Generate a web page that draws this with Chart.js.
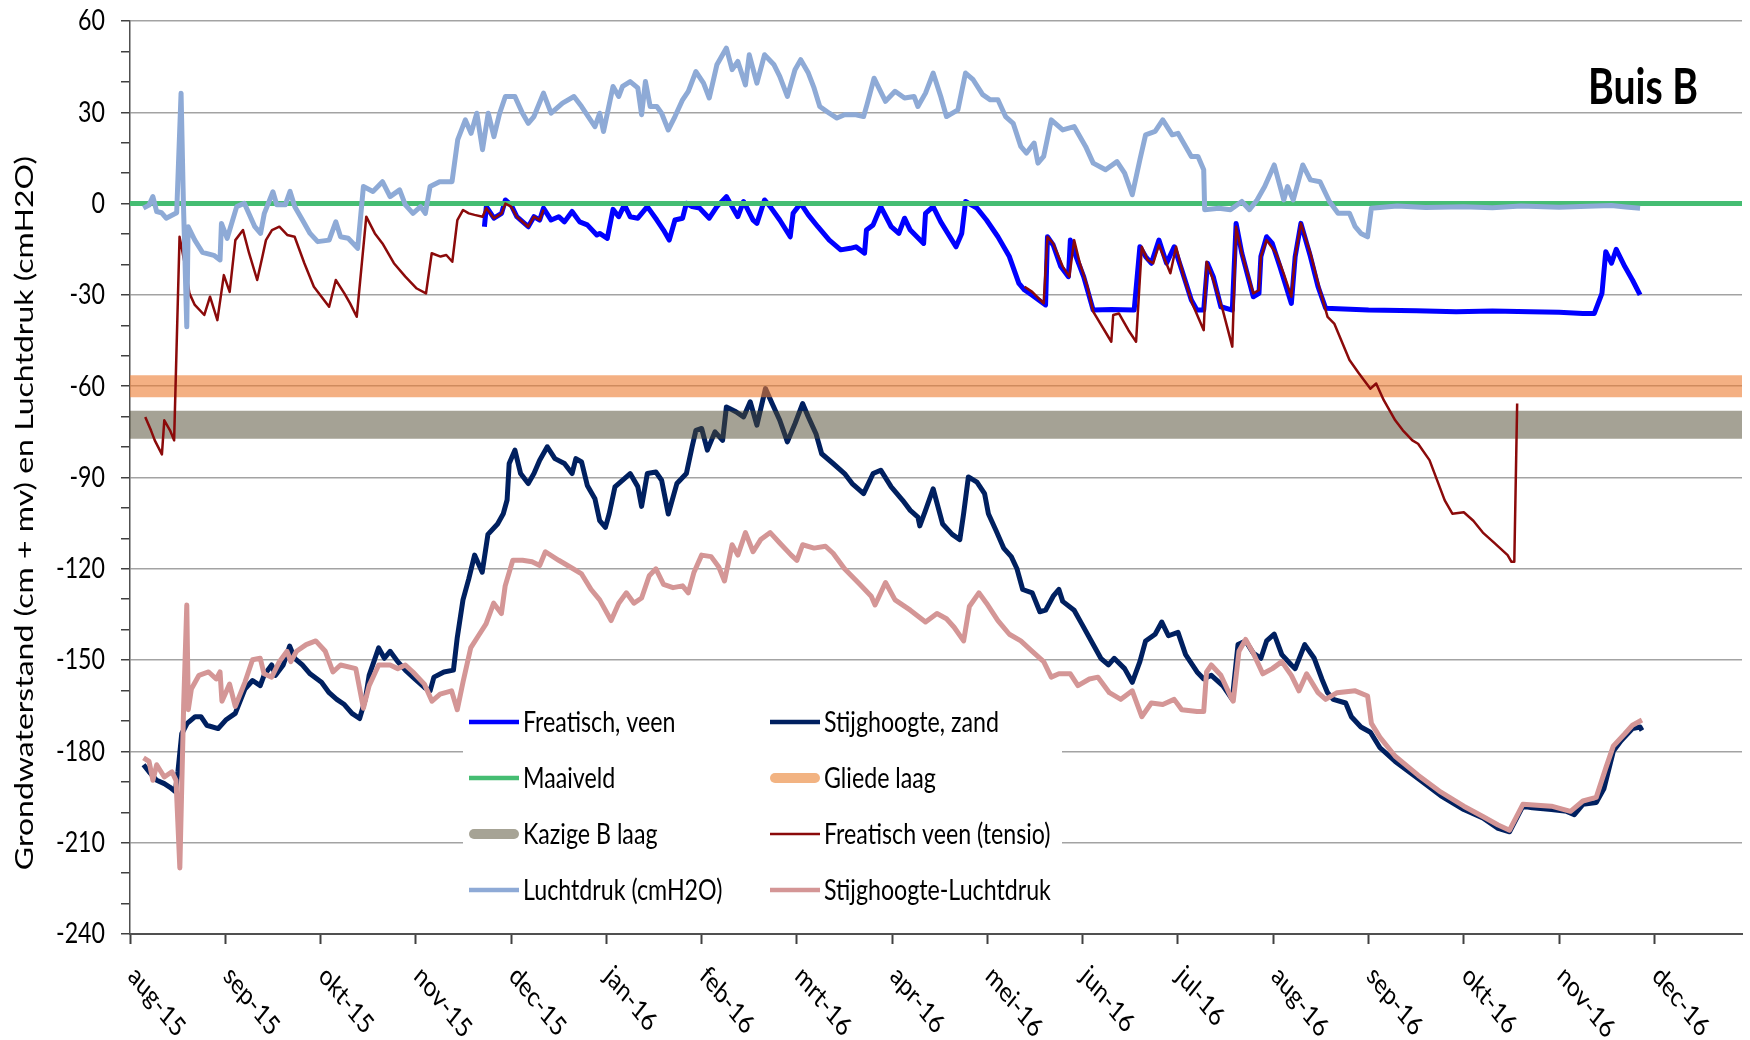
<!DOCTYPE html>
<html>
<head>
<meta charset="utf-8">
<title>Buis B</title>
<script src="https://cdn.jsdelivr.net/npm/chart.js@4.4.1/dist/chart.umd.min.js"></script>
<style>
  html, body { margin: 0; padding: 0; background: #ffffff; }
  #wrap { width: 1750px; height: 1040px; }
</style>
</head>
<body>
<div id="wrap"><canvas id="chart" width="1750" height="1040"></canvas></div>
<script>
// x positions are in months counted from 1 Aug 2015 (0 = aug-15, 1 = sep-15, ...)
const monthLabels = ['aug-15','sep-15','okt-15','nov-15','dec-15','jan-16','feb-16','mrt-16',
  'apr-16','mei-16','jun-16','jul-16','aug-16','sep-16','okt-16','nov-16','dec-16'];
const xEnd = 16.92;
const yLabelValues = [60, 30, 0, -30, -60, -90, -120, -150, -180, -210, -240];
const seriesNames = ['Freatisch, veen', 'Stijghoogte, zand', 'Maaiveld', 'Gliede laag',
  'Kazige B laag', 'Freatisch veen (tensio)', 'Luchtdruk (cmH2O)', 'Stijghoogte-Luchtdruk'];

// Freatische grondwaterstand in het veen (cm t.o.v. maaiveld)
const freatischVeen = [
  [3.72,-7.6],[3.74,-1],[3.82,-4.8],[3.9,-3.2],[3.94,1.2],[4.0,-0.4],[4.06,-4.3],[4.18,-7.6],[4.24,-4.3],
  [4.3,-5.4],[4.34,-1.5],[4.42,-5.4],[4.5,-4.3],[4.56,-6],[4.64,-2.6],[4.72,-6],[4.8,-7],[4.9,-10.3],
  [4.93,-9.8],[5.01,-11.4],[5.07,-1.9],[5.13,-4.3],[5.19,-0.4],[5.25,-4.3],[5.33,-4.8],[5.43,-1],
  [5.53,-5.4],[5.6,-8.7],[5.66,-12],[5.72,-5.4],[5.8,-4.8],[5.84,0.1],[5.9,-1],[5.98,-1.5],[6.08,-4.8],
  [6.16,-1],[6.26,2.3],[6.32,-1],[6.38,-4.3],[6.44,0.7],[6.54,-5.4],[6.58,-6.5],[6.66,1.2],[6.72,-1],
  [6.82,-5.4],[6.93,-10.9],[6.96,-3.2],[7.04,0.1],[7.12,-3.7],[7.22,-7.6],[7.34,-12],[7.46,-15.2],
  [7.56,-14.7],[7.62,-14.2],[7.71,-16.3],[7.73,-8.7],[7.8,-7],[7.88,-1],[7.99,-7.6],[8.07,-9.8],
  [8.13,-4.8],[8.19,-8.7],[8.33,-13.1],[8.35,-3.2],[8.43,-1],[8.51,-6],[8.67,-14.2],[8.73,-9.8],
  [8.77,0.7],[8.89,-1.5],[8.99,-5.4],[9.11,-10.9],[9.23,-17.4],[9.33,-26.2],[9.39,-28.4],[9.47,-30.1],
  [9.61,-33.3],[9.63,-10.9],[9.69,-13.6],[9.77,-20.7],[9.85,-24],[9.87,-12],[9.93,-17.4],[10.01,-24],
  [10.11,-35],[10.3,-34.8],[10.54,-35],[10.6,-14.2],[10.66,-17.4],[10.72,-19.6],[10.8,-12],[10.88,-19.6],
  [10.96,-14.2],[11.04,-21.8],[11.14,-31.7],[11.2,-35],[11.27,-35],[11.31,-19.6],[11.37,-24],
  [11.45,-33.9],[11.57,-35],[11.61,-6.5],[11.67,-16.3],[11.79,-30.6],[11.85,-29.5],[11.87,-17.4],
  [11.93,-10.9],[11.99,-13.1],[12.07,-20.7],[12.19,-32.8],[12.23,-17.4],[12.29,-6.5],[12.39,-17.4],
  [12.47,-27.3],[12.55,-34.4],[13.0,-35],[13.5,-35.2],[13.92,-35.5],[14.3,-35.3],[14.7,-35.5],
  [15.0,-35.7],[15.25,-36.1],[15.37,-36.1],[15.45,-29.5],[15.49,-15.8],[15.55,-19.6],[15.6,-15],
  [15.69,-20.7],[15.77,-25.1],[15.85,-30]
];

// Stijghoogte in het zand
const stijghoogteZand = [
  [0.142,-184.4],[0.2,-186.7],[0.28,-189.5],[0.36,-190.6],[0.42,-191.8],[0.475,-193.2],[0.503,-186.7],
  [0.543,-174.2],[0.6,-170.8],[0.684,-168.6],[0.745,-168.6],[0.805,-171.4],[0.925,-172.5],[1.005,-169.7],
  [1.105,-167.5],[1.206,-159.5],[1.286,-156.7],[1.367,-158.4],[1.407,-155],[1.487,-151.6],[1.527,-155],
  [1.608,-151.6],[1.676,-145.4],[1.728,-149.4],[1.809,-151.6],[1.89,-154.5],[2.01,-157.3],[2.09,-160.7],
  [2.17,-162.9],[2.25,-164.6],[2.33,-167.5],[2.41,-169.2],[2.47,-162.9],[2.51,-155],[2.61,-146],
  [2.67,-149.4],[2.73,-147.1],[2.81,-150.5],[2.89,-153.3],[2.99,-156.2],[3.09,-159],[3.15,-160.1],
  [3.19,-155.6],[3.295,-153.9],[3.395,-153.3],[3.435,-142.6],[3.495,-130.2],[3.555,-123.4],[3.617,-115.5],
  [3.697,-121.1],[3.757,-108.7],[3.858,-105.3],[3.918,-101.9],[3.958,-97.4],[3.98,-85.4],[4.04,-81],
  [4.1,-88.7],[4.18,-92],[4.24,-88.7],[4.3,-84.3],[4.38,-79.9],[4.46,-83.8],[4.56,-85.4],[4.64,-88.7],
  [4.68,-83.8],[4.74,-84.9],[4.8,-92.6],[4.88,-97],[4.93,-104.2],[4.99,-106.4],[5.03,-101.9],
  [5.09,-93.1],[5.25,-88.7],[5.33,-93],[5.37,-99.5],[5.43,-88.7],[5.52,-88.2],[5.58,-90.9],[5.65,-102],
  [5.74,-92],[5.84,-88.7],[5.9,-79.9],[5.94,-74.5],[6.0,-73.9],[6.06,-81],[6.14,-75],[6.22,-77.8],
  [6.26,-66.8],[6.36,-68.4],[6.44,-70.1],[6.51,-65.1],[6.58,-72.8],[6.67,-60.8],[6.74,-65.7],
  [6.82,-71.2],[6.9,-78.3],[6.98,-72.3],[7.06,-65.7],[7.12,-70.1],[7.2,-75.6],[7.26,-82.2],[7.38,-85.4],
  [7.5,-88.7],[7.58,-92],[7.7,-95.3],[7.8,-88.7],[7.88,-87.6],[7.99,-93.1],[8.11,-97.5],[8.19,-100.8],
  [8.27,-103],[8.29,-105.9],[8.35,-100.8],[8.43,-93.7],[8.53,-105.3],[8.63,-108.7],[8.71,-110.4],
  [8.75,-101.9],[8.8,-89.8],[8.89,-91.5],[8.97,-95.3],[9.01,-101.9],[9.09,-107.4],[9.17,-113.2],
  [9.25,-116],[9.31,-120],[9.37,-126.8],[9.47,-127.9],[9.55,-134.1],[9.61,-133.6],[9.69,-129],
  [9.75,-126.8],[9.79,-130.7],[9.91,-133.6],[9.99,-138.1],[10.11,-144.9],[10.19,-149.4],[10.27,-151.6],
  [10.33,-149.4],[10.44,-152.8],[10.52,-157.3],[10.6,-150.5],[10.66,-143.7],[10.76,-141.5],[10.83,-137.5],
  [10.9,-142],[11.0,-140.9],[11.08,-148.2],[11.2,-153.9],[11.27,-156.2],[11.35,-155],[11.47,-158.4],
  [11.57,-162.9],[11.63,-144.9],[11.71,-143.7],[11.79,-147.7],[11.87,-149.4],[11.93,-143.7],[12.01,-141.5],
  [12.09,-148.2],[12.19,-151.6],[12.23,-152.8],[12.33,-144.9],[12.43,-149.4],[12.51,-156.2],[12.57,-160.7],
  [12.63,-162.9],[12.76,-164.1],[12.82,-168.6],[12.92,-172],[13.02,-173.7],[13.12,-178.8],[13.28,-183.3],
  [13.52,-188.9],[13.76,-194.6],[14.0,-199.1],[14.2,-201.9],[14.36,-205.3],[14.48,-206.4],[14.62,-198],
  [14.72,-198.5],[14.92,-199.1],[15.08,-199.7],[15.16,-200.8],[15.25,-197.4],[15.39,-196.8],[15.47,-192.3],
  [15.57,-179.9],[15.65,-176.5],[15.77,-172.5],[15.85,-172],[15.87,-173.1]
];

// Maaiveld en de twee bodemlagen (vaste niveaus)
const maaiveld = [[0, 0], [xEnd, 0]];
const gliedeLaag = [[0, -60], [xEnd, -60]];
const kazigeBLaag = [[0, -72.7], [xEnd, -72.7]];

// Freatisch niveau in het veen, afgeleid uit de tensiometer
const freatischTensio = [
  [0.16,-70.1],[0.22,-74.5],[0.26,-77.8],[0.335,-82.4],[0.36,-71.2],[0.42,-74.5],[0.463,-77.8],
  [0.52,-10.9],[0.58,-20.7],[0.624,-29.5],[0.68,-33.3],[0.78,-36.6],[0.84,-30.6],[0.917,-38.3],
  [0.985,-23.5],[1.046,-29],[1.106,-12],[1.186,-8.7],[1.25,-16.3],[1.335,-25.1],[1.39,-17.4],
  [1.427,-12],[1.49,-8.7],[1.568,-7.6],[1.65,-10.3],[1.728,-10.9],[1.83,-19.6],[1.93,-27.3],
  [2.09,-33.9],[2.16,-25.1],[2.25,-29.5],[2.31,-32.8],[2.38,-37.2],[2.48,-4.3],[2.57,-9.8],
  [2.65,-13.1],[2.77,-19.6],[2.89,-24],[3.01,-27.9],[3.107,-29.5],[3.167,-16.3],[3.26,-17.4],
  [3.32,-16.9],[3.383,-19.1],[3.436,-5.4],[3.496,-2.1],[3.556,-3.2],[3.616,-3.7],[3.7,-4.3],
  [3.74,-1.5],[3.82,-4.8],[3.9,-3.2],[3.94,0],[4.0,-1],[4.06,-4.3],[4.18,-7.6],[4.24,-4.3],[4.3,-5.4],
  [4.34,-2],[4.36,null],
  [9.39,-27.3],[9.47,-29],[9.59,-32.8],[9.63,-10.9],[9.69,-13.1],[9.79,-20.7],[9.86,-24],[9.91,-12],
  [9.97,-19.6],[10.05,-27.3],[10.11,-35.5],[10.3,-45.4],[10.32,-36.6],[10.38,-36.1],[10.42,-38.3],
  [10.48,-41.6],[10.56,-45.4],[10.62,-14.2],[10.68,-18.5],[10.74,-19.6],[10.8,-13.6],[10.92,-22.9],
  [10.98,-14.2],[11.06,-24],[11.15,-32.8],[11.27,-41.6],[11.3,-19.1],[11.37,-25.1],[11.47,-35],
  [11.57,-47],[11.61,-7.6],[11.67,-16.3],[11.79,-29.5],[11.85,-28.4],[11.87,-17.4],[11.93,-12],
  [12.03,-16.3],[12.11,-23],[12.19,-30.6],[12.23,-17.4],[12.29,-6.5],[12.39,-16.3],[12.49,-28.4],
  [12.57,-37.2],[12.64,-39.4],[12.8,-51.4],[12.9,-55.8],[13.02,-60.8],[13.08,-59.1],[13.16,-64.6],
  [13.28,-71.2],[13.36,-74.5],[13.46,-77.8],[13.52,-78.9],[13.64,-84.3],[13.8,-97.5],[13.88,-101.9],
  [14.0,-101.4],[14.1,-104.2],[14.2,-108.1],[14.32,-111.5],[14.46,-115.5],[14.5,-117.7],[14.53,-117.7],
  [14.56,-65.7]
];

// Luchtdruk uitgedrukt in cm waterkolom (afwijking)
const luchtdruk = [
  [0.14,-1.5],[0.2,-0.5],[0.24,2.3],[0.28,-2.6],[0.33,-3],[0.38,-4.8],[0.43,-4],[0.49,-3],[0.536,36.3],
  [0.56,1],[0.596,-40.5],[0.61,-7.6],[0.68,-12],[0.76,-16],[0.88,-17],[0.945,-18.5],[0.96,-6.5],
  [1.02,-11.4],[1.12,-1],[1.2,0.1],[1.31,-7.6],[1.37,-9.8],[1.41,-3.2],[1.5,3.9],[1.54,-0.4],[1.63,-0.4],
  [1.68,4],[1.73,-1],[1.81,-5.4],[1.89,-9.8],[1.97,-12.5],[2.09,-12],[2.16,-6],[2.21,-10.9],[2.29,-11.4],
  [2.39,-14.7],[2.45,5.6],[2.55,4],[2.65,7.2],[2.73,2.3],[2.83,4.5],[2.89,-0.4],[2.97,-3.2],[3.05,-1],
  [3.1,-3.2],[3.15,5.6],[3.25,7.2],[3.38,7.2],[3.44,21],[3.52,27.5],[3.58,23.1],[3.64,29.7],[3.7,17.7],
  [3.76,29.7],[3.82,22],[3.88,29.7],[3.94,35.2],[4.04,35.2],[4.12,29.7],[4.18,26.4],[4.24,28.6],
  [4.34,36.3],[4.42,29.7],[4.54,33],[4.66,35.2],[4.74,31.9],[4.88,25.3],[4.93,29.7],[4.97,23.7],
  [5.07,38.5],[5.13,35.2],[5.17,38.5],[5.25,40.1],[5.33,38],[5.37,29.2],[5.41,40.1],[5.46,31.9],
  [5.53,31.9],[5.58,29.7],[5.65,24.2],[5.72,28.6],[5.8,34.1],[5.86,36.9],[5.94,43.4],[6.02,39.6],
  [6.08,34.7],[6.16,45.6],[6.26,51.1],[6.32,44],[6.38,46.7],[6.46,39],[6.5,48.9],[6.58,39.6],[6.66,48.9],
  [6.76,45.6],[6.82,41.8],[6.9,35.2],[6.98,44],[7.04,47.3],[7.12,42.9],[7.18,38],[7.24,31.9],[7.34,29.7],
  [7.42,28.1],[7.5,29.2],[7.62,29.2],[7.7,28.6],[7.74,33],[7.81,41.2],[7.87,37.4],[7.93,33.6],[8.03,36.9],
  [8.13,34.7],[8.23,35.2],[8.27,31.9],[8.35,36.3],[8.43,42.9],[8.51,35.2],[8.57,28.6],[8.69,30.8],
  [8.77,42.9],[8.85,40.7],[8.95,35.8],[9.03,34.1],[9.11,34.1],[9.19,28.6],[9.27,26.4],[9.35,18.8],
  [9.41,16.6],[9.49,19.9],[9.53,13.3],[9.59,15.5],[9.67,27.5],[9.79,24.2],[9.91,25.3],[10.03,18.8],
  [10.11,13.3],[10.24,11.1],[10.36,13.8],[10.44,10],[10.52,2.9],[10.6,14.4],[10.66,22.6],[10.76,23.7],
  [10.84,27.5],[10.94,22.6],[11.0,23.1],[11.08,18.8],[11.14,15.5],[11.21,15.5],[11.27,11.1],[11.28,-2],
  [11.43,-1.5],[11.55,-2],[11.67,0.7],[11.75,-2],[11.83,1.2],[11.91,5.6],[12.01,12.7],[12.11,1.2],
  [12.15,5.6],[12.21,1.2],[12.31,12.7],[12.39,7.8],[12.49,7.2],[12.59,0.7],[12.68,-3.2],[12.8,-3.2],
  [12.86,-7.6],[12.92,-9.8],[12.99,-10.9],[13.03,-1.5],[13.3,-0.8],[13.6,-1.3],[14.0,-1],[14.3,-1.4],
  [14.6,-0.8],[15.0,-1.2],[15.3,-0.9],[15.55,-0.6],[15.7,-1.1],[15.85,-1.5]
];

// Stijghoogte gecorrigeerd voor luchtdruk
const stijghoogteMinLuchtdruk = [
  [0.142,-182.1],[0.2,-183.3],[0.24,-189.5],[0.28,-184.4],[0.36,-188.4],[0.44,-186.7],[0.483,-189.5],
  [0.523,-218.3],[0.563,-165.2],[0.596,-131.9],[0.612,-166.3],[0.644,-159.5],[0.724,-155],[0.825,-153.9],
  [0.905,-156.2],[0.945,-153.9],[0.965,-163.5],[1.045,-157.9],[1.105,-165.2],[1.206,-157.3],[1.286,-149.9],
  [1.367,-149.4],[1.407,-154.5],[1.487,-155.6],[1.568,-150.5],[1.648,-147.1],[1.688,-150.5],[1.748,-147.1],
  [1.849,-144.9],[1.95,-143.7],[2.05,-147.1],[2.13,-153.9],[2.21,-151.6],[2.37,-152.8],[2.45,-165.8],
  [2.51,-158.4],[2.61,-151.6],[2.73,-151.6],[2.81,-152.8],[2.89,-151.6],[2.97,-153.9],[3.09,-157.9],
  [3.17,-163.5],[3.255,-161.2],[3.375,-160.1],[3.435,-166.3],[3.495,-157.3],[3.576,-146],[3.657,-142],
  [3.737,-138.1],[3.817,-131.3],[3.898,-134.7],[3.938,-125.6],[4.018,-117.2],[4.12,-117.2],[4.22,-117.7],
  [4.3,-118.9],[4.36,-114.4],[4.5,-117.2],[4.62,-119.4],[4.74,-121.7],[4.84,-126.8],[4.93,-130.2],
  [5.05,-137],[5.13,-131.3],[5.21,-127.9],[5.29,-131.3],[5.37,-129.6],[5.45,-122.3],[5.52,-120],
  [5.6,-125.1],[5.7,-126.2],[5.8,-125.6],[5.86,-127.9],[5.92,-121.1],[6.0,-115.5],[6.1,-116],[6.18,-119.4],
  [6.24,-124],[6.32,-112.1],[6.38,-115.5],[6.46,-108.1],[6.54,-114.4],[6.62,-110.4],[6.72,-108.1],
  [6.82,-111.5],[6.94,-115.5],[7.0,-117.2],[7.06,-112.1],[7.18,-113.2],[7.3,-112.6],[7.38,-114.9],
  [7.5,-120],[7.66,-125.1],[7.78,-129],[7.82,-131.9],[7.93,-124.5],[8.03,-130.2],[8.19,-133.6],
  [8.35,-137.5],[8.47,-134.7],[8.57,-136.4],[8.65,-139.2],[8.75,-143.7],[8.81,-132.4],[8.91,-127.9],
  [8.99,-131.3],[9.11,-137],[9.23,-141.5],[9.35,-143.7],[9.47,-147.1],[9.59,-150.5],[9.67,-155.6],
  [9.75,-154.5],[9.87,-154.5],[9.95,-158.4],[10.07,-156.2],[10.16,-155.6],[10.28,-160.7],[10.4,-162.9],
  [10.52,-160.1],[10.62,-168.6],[10.72,-164.1],[10.84,-164.6],[10.96,-162.9],[11.04,-166.3],[11.2,-166.9],
  [11.27,-166.9],[11.3,-153.9],[11.35,-151.6],[11.45,-155],[11.55,-161.8],[11.58,-163.5],[11.64,-147.1],
  [11.71,-143.2],[11.79,-147.7],[11.89,-154.5],[11.99,-152.8],[12.09,-150.5],[12.19,-155],[12.27,-160.1],
  [12.35,-154.5],[12.47,-160.7],[12.55,-162.9],[12.67,-160.7],[12.86,-160.1],[12.99,-161.8],[13.03,-170.8],
  [13.12,-175.4],[13.28,-181.6],[13.52,-187.8],[13.76,-193.4],[14.0,-198],[14.2,-201.4],[14.36,-204.2],
  [14.48,-205.9],[14.62,-197.4],[14.92,-198],[15.12,-199.7],[15.25,-196.3],[15.39,-195.1],[15.49,-185.5],
  [15.57,-178.2],[15.69,-174.2],[15.77,-171.4],[15.87,-169.7]
];

const seriesValues = [freatischVeen, stijghoogteZand, maaiveld, gliedeLaag, kazigeBLaag,
  freatischTensio, luchtdruk, stijghoogteMinLuchtdruk];

// line styling per series (colour, width, width of the legend sample)
const seriesStyle = [
  { color: '#0000ff', width: 5, key: 4.5, cap: 'butt' },
  { color: '#002060', width: 5, key: 4.5, cap: 'butt' },
  { color: '#45bd72', width: 5, key: 4.5, cap: 'butt' },
  { color: 'rgba(236,124,48,0.6)', width: 22, key: 10, cap: 'round', keyColor: '#f2b382' },
  { color: 'rgba(76,70,44,0.5)', width: 28, key: 10, cap: 'round', keyColor: '#a6a395' },
  { color: '#8b0a0a', width: 2.5, key: 2.5, cap: 'butt' },
  { color: '#8eaad6', width: 5, key: 4.5, cap: 'butt' },
  { color: '#d49696', width: 5, key: 4.5, cap: 'butt' }
];

const SQUASH = 0.8;   // the chart's lettering is set narrow
const FONT = 'Lato, "Open Sans", sans-serif';

function narrowText(ctx, text, px, py, rot) {
  ctx.save();
  ctx.translate(px, py);
  ctx.scale(SQUASH, 1);
  if (rot) ctx.rotate(rot);
  ctx.fillText(text, 0, 0);
  ctx.restore();
}

const lettering = {
  id: 'lettering',
  afterDraw(chart) {
    const { ctx, chartArea: area, scales } = chart;
    const xs = scales.x, ys = scales.y;
    ctx.save();
    ctx.fillStyle = '#000000';

    // value labels along the left axis
    ctx.font = '29px ' + FONT;
    ctx.textAlign = 'right';
    ctx.textBaseline = 'middle';
    yLabelValues.forEach(v => narrowText(ctx, String(v), area.left - 25, ys.getPixelForValue(v)));

    // month labels, slanted downwards
    ctx.font = '28px ' + FONT;
    ctx.textAlign = 'left';
    monthLabels.forEach((lab, i) => {
      narrowText(ctx, lab, xs.getPixelForValue(i) + 2, area.bottom + 37, Math.PI / 4);
    });

    // axis title
    ctx.font = '32px ' + FONT;
    ctx.textAlign = 'center';
    ctx.save();
    ctx.translate(25, 513);
    ctx.scale(SQUASH, 1);
    ctx.rotate(-Math.PI / 2);
    ctx.fillText('Grondwaterstand (cm + mv) en Luchtdruk (cmH2O)', 0, 0);
    ctx.restore();

    // heading
    ctx.font = 'bold 49px ' + FONT;
    ctx.textAlign = 'left';
    ctx.textBaseline = 'alphabetic';
    narrowText(ctx, 'Buis B', 1588, 104);

    // legend box inside the plot
    const box = { x: 463, y: 697, w: 599, h: 218 };
    ctx.fillStyle = '#ffffff';
    ctx.fillRect(box.x, box.y, box.w, box.h);
    const colX = [469, 770];
    const rowY = [722, 778, 834, 890];
    ctx.font = '29px ' + FONT;
    ctx.textBaseline = 'middle';
    seriesNames.forEach((name, i) => {
      const st = seriesStyle[i];
      const x0 = colX[i % 2], yy = rowY[Math.floor(i / 2)];
      ctx.beginPath();
      ctx.lineCap = st.cap;
      ctx.lineWidth = st.key;
      ctx.strokeStyle = st.keyColor || st.color;
      const inset = st.cap === 'round' ? st.key / 2 : 0;
      ctx.moveTo(x0 + inset, yy);
      ctx.lineTo(x0 + 50 - inset, yy);
      ctx.stroke();
      ctx.fillStyle = '#000000';
      narrowText(ctx, name, x0 + 54, yy + 1);
    });
    ctx.restore();
  }
};

const datasets = seriesValues.map((vals, i) => ({
  label: seriesNames[i],
  data: vals.map(p => ({ x: p[0], y: p[1] })),
  borderColor: seriesStyle[i].color,
  backgroundColor: seriesStyle[i].color,
  borderWidth: seriesStyle[i].width,
  borderCapStyle: 'butt',
  borderJoinStyle: 'round',
  pointRadius: 0,
  pointHoverRadius: 0,
  tension: 0,
  fill: false,
  spanGaps: false,
  order: 10 - i
}));

Chart.defaults.font.family = FONT;

new Chart(document.getElementById('chart'), {
  type: 'line',
  data: { datasets },
  options: {
    responsive: false,
    animation: false,
    devicePixelRatio: 1,
    layout: { padding: { left: 0, right: 8, top: 21, bottom: 0 } },
    plugins: { legend: { display: false }, tooltip: { enabled: false }, title: { display: false } },
    scales: {
      x: {
        type: 'linear',
        min: 0,
        max: xEnd,
        afterFit: s => { s.height = 106; },
        ticks: { display: false, stepSize: 1, includeBounds: false, autoSkip: false },
        grid: { drawOnChartArea: false, drawTicks: true, tickLength: 10, tickColor: '#404040', tickWidth: 2 },
        border: { display: true, color: '#505050', width: 2 }
      },
      y: {
        type: 'linear',
        min: -240,
        max: 60,
        afterFit: s => { s.width = 130; },
        ticks: { display: false, stepSize: 10, autoSkip: false },
        grid: {
          drawTicks: true,
          tickLength: 9,
          tickWidth: 1.5,
          tickColor: '#404040',
          lineWidth: 1.5,
          color: c => (c.tick && c.tick.value % 30 === 0) ? '#a3a3a3' : 'rgba(0,0,0,0)'
        },
        border: { display: true, color: '#505050', width: 1.5 }
      }
    }
  },
  plugins: [lettering]
});
</script>
</body>
</html>
